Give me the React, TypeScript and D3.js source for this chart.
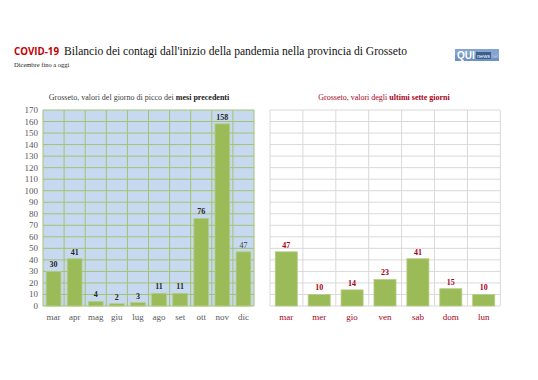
import React from "react";
import * as d3 from "d3";

const months = ["mar", "apr", "mag", "giu", "lug", "ago", "set", "ott", "nov", "dic"];
const monthValues = [30, 41, 4, 2, 3, 11, 11, 76, 158, 47];
const days = ["mar", "mer", "gio", "ven", "sab", "dom", "lun"];
const dayValues = [47, 10, 14, 23, 41, 15, 10];
const yTicks = d3.range(0, 171, 10);

const W = 538;
const H = 380;
const TOP = 110;
const BOTTOM = 306;

export default function App() {
  const y = d3.scaleLinear().domain([0, 170]).range([BOTTOM, TOP]);
  const xl = d3.scaleBand<string>().domain(months).range([43, 254]).paddingInner(0.3).paddingOuter(0.15);
  const xr = d3.scaleBand<string>().domain(days).range([270, 500]).paddingInner(0.33).paddingOuter(0.16);
  const lStep = xl.step();
  const rStep = xr.step();
  const serif = "'Liberation Serif', 'DejaVu Serif', serif";
  const red = "#A8001A";
  return (
    <svg width={W} height={H} style={{ position: "absolute", left: 0, top: 0, background: "#fff" }} fontFamily={serif}>
      {/* Title */}
      <text x={14} y={55} fontSize={11} fontFamily="'Open Sans', 'Liberation Sans', sans-serif" fontWeight="bold" fill="#C00000" textLength={45} lengthAdjust="spacingAndGlyphs">COVID-19</text>
      <text x={64} y={55} fontSize={13} fill="#111" textLength={343} lengthAdjust="spacingAndGlyphs">Bilancio dei contagi dall'inizio della pandemia nella provincia di Grosseto</text>
      <text x={14} y={67} fontSize={6.5} fill="#222">Dicembre fino a oggi</text>
      {/* Logo */}
      <g>
        <rect x={455} y={49} width={44} height={12} fill="#6F93C4" />
        <rect x={455} y={49} width={44} height={6} fill="#93B1DA" opacity={0.6} />
        <text x={457} y={59} fontFamily="'Liberation Sans', sans-serif" fontWeight="bold" fontSize={10} fill="#fff">QUI</text>
        <rect x={476} y={52} width={15} height={7} fill="#3E5F8E" />
        <text x={477} y={58} fontFamily="'Liberation Sans', sans-serif" fontSize={5.5} fill="#fff" textLength={13} lengthAdjust="spacingAndGlyphs">news</text>
        <text x={491.5} y={58} fontFamily="'Liberation Sans', sans-serif" fontSize={5} fill="#C9D8EE" textLength={7} lengthAdjust="spacingAndGlyphs">net</text>
      </g>

      {/* Left panel */}
      <text x={139} y={100} fontSize={8} fill="#404040" textAnchor="middle">
        Grosseto, valori del giorno di picco dei <tspan fontWeight="bold" fill="#1a1a1a">mesi precedenti</tspan>
      </text>
      <rect x={43} y={TOP} width={211} height={BOTTOM - TOP} fill="#C6D9F1" />
      {yTicks.map((t) => (
        <line key={"lh" + t} x1={43} x2={254} y1={y(t)} y2={y(t)} stroke="#A4C270" strokeWidth={1} />
      ))}
      {d3.range(0, months.length + 1).map((i) => (
        <line key={"lv" + i} x1={43 + i * lStep} x2={43 + i * lStep} y1={TOP} y2={BOTTOM} stroke="#A4C270" strokeWidth={1} />
      ))}
      {yTicks.map((t) => (
        <text key={"yt" + t} x={38} y={y(t) + 3} fontSize={9} fill="#595959" textAnchor="end">{t}</text>
      ))}
      {months.map((m, i) => (
        <g key={"lb" + m}>
          <rect x={xl(m)!} y={y(monthValues[i])} width={xl.bandwidth()} height={BOTTOM - y(monthValues[i])} fill="#9BBB59" stroke="#B7CD86" strokeWidth={0.8} />
          <text x={xl(m)! + xl.bandwidth() / 2} y={y(monthValues[i]) - 4} fontSize={8} fontWeight={m === "dic" ? "normal" : "bold"} fill={m === "dic" ? "#404040" : "#262626"} textAnchor="middle">{monthValues[i]}</text>
          <text x={xl(m)! + xl.bandwidth() / 2} y={320} fontSize={9} fill="#595959" textAnchor="middle">{m}</text>
        </g>
      ))}

      {/* Right panel */}
      <text x={384} y={100} fontSize={8} fill={red} textAnchor="middle">
        Grosseto, valori degli <tspan fontWeight="bold">ultimi sette giorni</tspan>
      </text>
      {yTicks.map((t) => (
        <line key={"rh" + t} x1={270} x2={500} y1={y(t)} y2={y(t)} stroke="#D9D9D9" strokeWidth={1} />
      ))}
      {d3.range(0, days.length + 1).map((i) => (
        <line key={"rv" + i} x1={270 + i * rStep} x2={270 + i * rStep} y1={TOP} y2={BOTTOM} stroke="#D9D9D9" strokeWidth={1} />
      ))}
      {days.map((d, i) => (
        <g key={"rb" + d}>
          <rect x={xr(d)!} y={y(dayValues[i])} width={xr.bandwidth()} height={BOTTOM - y(dayValues[i])} fill="#9BBB59" stroke="#B7CD86" strokeWidth={0.8} />
          <text x={xr(d)! + xr.bandwidth() / 2} y={y(dayValues[i]) - 4} fontSize={8} fontWeight="bold" fill={red} textAnchor="middle">{dayValues[i]}</text>
          <text x={xr(d)! + xr.bandwidth() / 2} y={320} fontSize={9} fill={red} textAnchor="middle">{d}</text>
        </g>
      ))}
    </svg>
  );
}
